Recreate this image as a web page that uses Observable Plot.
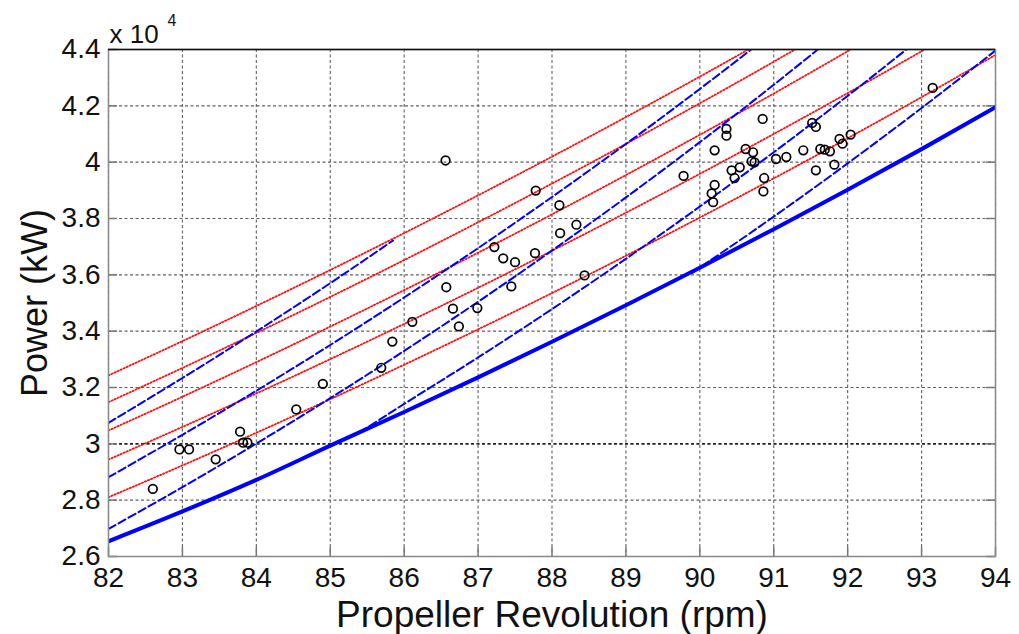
<!DOCTYPE html>
<html><head><meta charset="utf-8">
<script src="https://cdn.jsdelivr.net/npm/d3@7"></script>
<script src="https://cdn.jsdelivr.net/npm/@observablehq/plot@0.6"></script>
<style>body{margin:0;background:#fff}#chart{width:1019px;height:634px}</style>
</head><body><div id="chart"></div>
<script>
// ---- data ----
const xTicks = [82,83,84,85,86,87,88,89,90,91,92,93,94];
const yTicks = [26000,28000,30000,32000,34000,36000,38000,40000,42000,44000];
const yTickLabels = ["2.6","2.8","3","3.2","3.4","3.6","3.8","4","4.2","4.4"];

const thickRpm   = [82,83,84,85,86,87,88,89,90,91,92,93,94];
const thickPower = [26540,27600,28720,29935,31132,32361,33624,34921,36254,37621,39022,40463,41950];

const red1Rpm   = [82,83,84,85,86,87,88,89,90,91];
const red1Power = [32430,33647,34895,36173,37483,38823,40196,41601,43038,44508];
const red2Rpm   = [82,83,84,85,86,87,88,89,90,91,92];
const red2Power = [31481,32694,33939,35216,36525,37866,39241,40649,42091,43567,45078];
const red3Rpm   = [82,83,84,85,86,87,88,89,90,91,92,93];
const red3Power = [30474,31672,32901,34163,35457,36785,38147,39542,40973,42438,43939,45476];
const red4Rpm   = [82,83,84,85,86,87,88,89,90,91,92,93,94];
const red4Power = [29443,30600,31788,33007,34258,35541,36856,38205,39587,41002,42453,43937,45457];
const red5Rpm   = [82,83,84,85,86,87,88,89,90,91,92,93,94];
const red5Power = [28104,29233,30394,31585,32809,34065,35354,36677,38034,39424,40850,42310,43807];

const blue1Rpm   = [82,83,84,85,85.85];
const blue1Power = [30747,32337,33989,35704,37220];
const blue2Rpm   = [82,83,84,85,86,87,88,89,90,91];
const blue2Power = [28815,30320,31884,33509,35196,36947,38765,40647,42600,44623];
const blue3Rpm   = [82,83,84,85,86,87,88,89,90,91,92];
const blue3Power = [26978,28463,30010,31621,33300,35045,36861,38749,40710,42747,44863];
const blue4Rpm   = [85.4,86,87,88,89,90,91,92,93];
const blue4Power = [30410,31416,33067,34784,36570,38425,40352,42354,44432];
const blue5Rpm   = [89.9,91,92,93,94];
const blue5Power = [36080,38066,39958,41923,43962];

const ptRpm = [82.6,82.96,83.09,83.45,83.78,83.82,83.88,84.54,84.9,85.69,85.84,86.11,86.56,86.57,86.66,86.74,86.99,
  87.22,87.34,87.5,87.45,87.78,87.77,88.1,88.11,88.33,88.44,89.78,90.2,90.36,90.36,90.2,90.16,90.18,90.85,90.62,
  90.72,90.7,90.74,90.43,90.54,90.47,90.87,90.86,91.03,91.17,91.4,91.52,91.57,91.57,91.63,91.69,91.76,91.82,91.89,
  91.93,92.04,93.15];
const ptPower = [28400,29800,29800,29450,30430,30040,30040,31220,32130,32700,33630,34330,40060,35560,34800,34170,34820,
  36985,36585,36450,35590,38990,36770,38470,37480,37780,35980,39513,40420,41180,40940,39190,38890,38580,41535,40468,
  40350,40030,39994,39710,39816,39437,39437,38963,40113,40184,40421,41393,41250,39710,40468,40444,40385,39911,40824,
  40658,40978,42637];

// ---- build tables ----
const toRows = (xs, ys) => xs.map((x, i) => ({x, y: ys[i]}));
const redSeries  = [[red1Rpm,red1Power],[red2Rpm,red2Power],[red3Rpm,red3Power],[red4Rpm,red4Power],[red5Rpm,red5Power]].map(([a,b]) => toRows(a,b));
const blueSeries = [[blue1Rpm,blue1Power],[blue2Rpm,blue2Power],[blue3Rpm,blue3Power],[blue4Rpm,blue4Power],[blue5Rpm,blue5Power]].map(([a,b]) => toRows(a,b));
const thickRows = toRows(thickRpm, thickPower);
const points = toRows(ptRpm, ptPower);

const W = 1019, H = 634, mL = 108, mR = 24, mT = 49, mB = 78;
const plotW = W - mL - mR, plotH = H - mT - mB;
const gridStyle = {stroke: "#606060", strokeOpacity: 1, strokeWidth: 1.1, strokeDasharray: "3,2.5"};
const tickStyle = {stroke: "#777", strokeWidth: 1.5};

const chart = Plot.plot({
  width: W, height: H,
  marginLeft: mL, marginRight: mR, marginTop: mT, marginBottom: mB,
  style: {fontFamily: "'Liberation Sans', Arial, sans-serif", background: "#fff", color: "#111"},
  x: {domain: [82, 94]},
  y: {domain: [26000, 44000]},
  marks: [
    Plot.gridX(xTicks, gridStyle),
    Plot.gridY(yTicks, gridStyle),
    Plot.ruleY([30000], {stroke: "#000", strokeWidth: 1.1, strokeDasharray: "3,2.5"}),
    Plot.tickX(xTicks, {x: d => d, insetTop: plotH - 9, ...tickStyle}),
    Plot.tickY(yTicks, {y: d => d, insetRight: plotW - 9, ...tickStyle}),
    Plot.tickY(yTicks, {y: d => d, insetLeft: plotW - 9, ...tickStyle}),
    ...redSeries.map(s => Plot.line(s, {x: "x", y: "y", stroke: "#ff1010", strokeWidth: 1.8, strokeDasharray: "1.3,2", curve: "monotone-x", clip: true})),
    ...blueSeries.map(s => Plot.line(s, {x: "x", y: "y", stroke: "#0000ff", strokeWidth: 2, strokeDasharray: "8,3.5", curve: "monotone-x", clip: true})),
    Plot.line(thickRows, {x: "x", y: "y", stroke: "#0000ff", strokeWidth: 4, curve: "monotone-x", clip: true}),
    Plot.frame({stroke: "#888", strokeWidth: 1.5}),
    Plot.ruleY([44000], {stroke: "#111", strokeWidth: 1.6}),
    Plot.dot(points, {x: "x", y: "y", r: 4.3, stroke: "#000", strokeWidth: 1.7, fill: "none"}),
    Plot.axisX(xTicks, {tickSize: 0, tickPadding: 11, fontSize: 28, label: null, tickFormat: d => String(d)}),
    Plot.axisY(yTicks, {tickSize: 0, tickPadding: 8, fontSize: 28, label: null, tickFormat: d => yTickLabels[yTicks.indexOf(d)]}),
    Plot.text(["Propeller Revolution (rpm)"], {text: d => d, frameAnchor: "bottom", dy: 70, lineAnchor: "bottom", fontSize: 37, fill: "#111"}),
    Plot.text(["Power (kW)"], {text: d => d, frameAnchor: "left", dx: -73, rotate: -90, fontSize: 36, lineAnchor: "middle", textAnchor: "middle", fill: "#111"}),
    Plot.text(["x 10"], {text: d => d, frameAnchor: "top-left", textAnchor: "start", lineAnchor: "bottom", dx: 1, dy: -7, fontSize: 26, fill: "#111"}),
    Plot.text(["4"], {text: d => d, frameAnchor: "top-left", textAnchor: "start", lineAnchor: "bottom", dx: 59, dy: -24, fontSize: 16, fill: "#111"})
  ]
});
document.getElementById("chart").appendChild(chart);
</script>
</body></html>
